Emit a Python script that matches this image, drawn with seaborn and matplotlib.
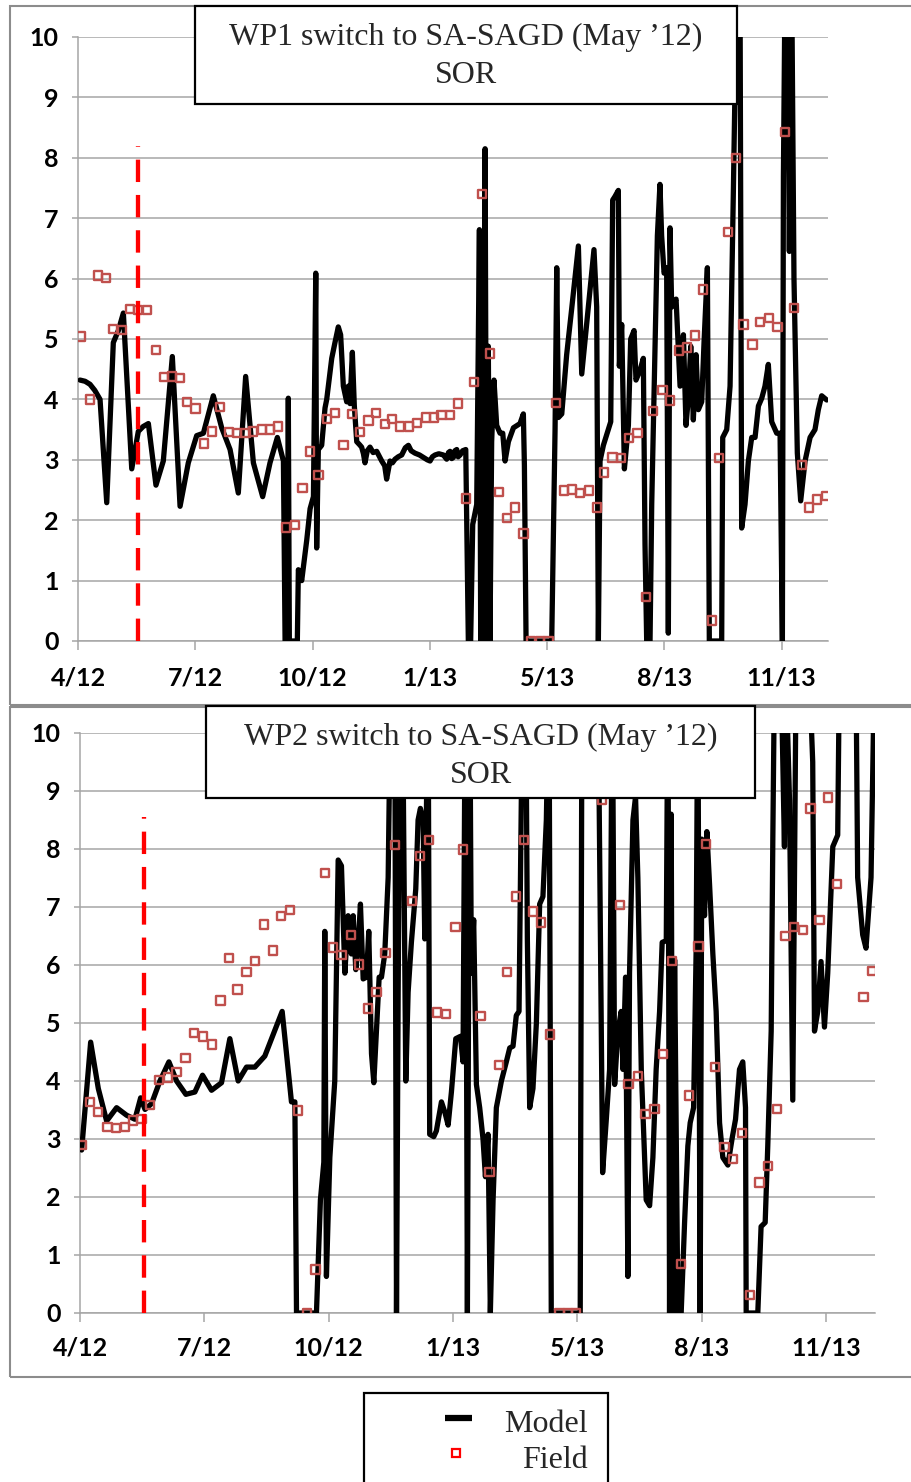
import numpy as np
import pandas as pd
import matplotlib
matplotlib.use("Agg")
import matplotlib.pyplot as plt
import seaborn as sns
from matplotlib.patches import Rectangle
from matplotlib.lines import Line2D

# ---------------- data (x = days since 1 Apr 2012, y = SOR) ----------------
TICK_DAYS = [0, 91, 182, 273, 364, 455, 546]
TICK_LABELS = ['4/12', '7/12', '10/12', '1/13', '5/13', '8/13', '11/13']
SWITCH_DAY = 46.8
X_MAX = 582

WP1_MODEL_DAY = [1.6, 5.5, 9.3, 13, 17.1, 22.3, 27.4, 31.3, 35.2, 41.7, 46.8, 50.5, 54.6, 60.5, 66.2, 73.2,
                 79.2, 85.6, 92.1, 97.3, 105.0, 111.5, 118.0, 124.4, 130.1, 136.1, 143.3, 149.0, 154.7, 159.4,
                 160.7, 162.5, 163.2, 164.0, 170.2, 171.0, 173.6, 177.5, 180.1, 182.7, 184.5, 185.2, 186.5,
                 189.1, 191.7, 193.0, 196.9, 199.4, 202.0, 203.8, 205.9, 208.5, 209.8, 211.1, 212.9, 214.4,
                 216.3, 218.5, 220.1, 221.5, 222.7, 224.5, 226.6, 229, 231.8, 234, 235.7, 238, 239.5, 242.1,
                 244, 246.0, 248.5, 251.2, 254, 256.4, 258.5, 261.5, 265, 268.0, 271, 273.2, 275, 277.1, 280,
                 283.5, 286.1, 287.5, 288.7, 290, 291.3, 292.5, 293.9, 295, 296.5, 298.5, 300.9, 302.9, 304.7,
                 306.3, 309.4, 311.5, 312.5, 313.8, 314.6, 315.9, 317.2, 318.4, 319.7, 321.0, 322.8, 324.9,
                 327.5, 329.6, 331.4, 334.0, 337.9, 343.0, 345.6, 346.4, 347.7, 367.6, 370.2, 371.5, 372.8,
                 375.4, 379.2, 383.1, 388.3, 390.9, 396.0, 400.4, 402.5, 403.8, 405.1, 407.7, 413.4, 414.9,
                 416.7, 419.3, 420.1, 421.9, 424.0, 427.1, 428.9, 431.5, 433.0, 436.1, 438.7, 440.0, 441.3,
                 443.9, 445.2, 447.8, 449.6, 451.6, 452.9, 454.8, 456.8, 458.1, 459.4, 460.7, 464.1, 467.2,
                 469.8, 471.8, 473.6, 475.5, 477.5, 479.6, 481.4, 484.0, 485.8, 488.4, 489.9, 499.5, 500.3,
                 503.4, 506.0, 508.6, 511.2, 513.7, 515.0, 517.6, 520.2, 522.8, 525.4, 528.0, 530.6, 533.1,
                 535.7, 538.3, 542.2, 544.8, 546.6, 547.4, 548.7, 550.5, 552.0, 553.8, 555.6, 558.2, 560.8,
                 564.2, 568.1, 571.9, 574.5, 577.1, 581.0]
WP1_MODEL_SOR = [4.32, 4.30, 4.25, 4.15, 4.0, 2.29, 4.94, 5.14, 5.43, 2.85, 3.47, 3.55, 3.6, 2.58, 2.98, 4.71,
                 2.23, 2.95, 3.4, 3.44, 4.06, 3.53, 3.17, 2.45, 4.38, 2.95, 2.39, 2.95, 3.37, 2.98,
                 0, 0, 4.02, 0, 0, 1.18, 1.0, 1.67, 2.19, 2.39, 6.09, 1.54, 3.17,
                 3.24, 3.86, 4.0, 4.68, 4.94, 5.2, 5.07, 4.22, 3.96, 4.22, 3.93, 4.78, 3.9,
                 3.3, 3.25, 3.21, 3.1, 2.95, 3.15, 3.21, 3.12, 3.14, 3.05, 2.98, 2.9, 2.68, 2.98,
                 2.95, 3.01, 3.05, 3.08, 3.2, 3.24, 3.15, 3.11, 3.08, 3.04, 3.0, 2.98, 3.05, 3.08, 3.1,
                 3.08, 3.01, 3.12, 3.14, 3.02, 3.04, 3.15, 3.17, 3.05, 3.08, 3.15, 3.17, 0, 0,
                 1.93, 2.26, 6.81, 0, 5.53, 0, 8.15, 0, 4.88, 0, 3.3, 4.32, 3.57,
                 3.44, 3.44, 2.98, 3.3, 3.53, 3.6, 3.76, 2.91, 0, 0, 3.5, 6.18, 3.7,
                 3.76, 4.74, 5.5, 6.54, 4.42, 5.53, 6.48, 5.53, 0, 2.98, 3.24, 3.63, 7.3,
                 7.36, 7.46, 4.55, 5.24, 2.85, 3.57, 5.0, 5.14, 4.32, 4.48, 4.68, 1.6, 0,
                 0, 2.26, 4.88, 6.71, 7.56, 6.71, 6.09, 6.18, 0.13, 6.84, 5.53, 5.66, 4.22,
                 5.07, 3.57, 4.02, 4.88, 3.66, 4.74, 3.83, 3.96, 4.94, 6.18, 0, 0, 3.37,
                 3.5, 4.22, 7.49, 11, 11, 1.87, 2.26, 2.98, 3.37, 3.37, 3.89, 4.02, 4.22,
                 4.58, 3.63, 3.44, 3.44, 0, 7.69, 11, 11, 6.45, 11, 6.0, 3.11, 2.32,
                 2.98, 3.37, 3.5, 3.83, 4.06, 3.99]

WP1_FIELD_DAY = [2.3, 9.3, 15.3, 21.5, 27.4, 34.4, 40.4, 46.8, 53.3, 60.3, 66.7, 72.7, 79.2, 84.8, 91.3,
                 97.8, 104.2, 110.4, 117.2, 123.6, 130.1, 136.0, 142.6, 149.0, 155.0, 161.4, 168.4, 174.1,
                 180.0, 186.5, 193.0, 199.4, 205.9, 212.4, 218.8, 225.3, 231.2, 238.2, 243.9, 249.9, 256.9,
                 263.3, 269.8, 276.3, 282.2, 288.7, 295.1, 300.9, 307.3, 313.7, 319.7, 326.7, 332.7, 339.1,
                 345.6, 351.3, 358.5, 365.0, 370.7, 377.1, 383.6, 389.6, 396.5, 403.0, 408.4, 414.9, 421.4,
                 427.6, 434.3, 440.8, 446.4, 453.7, 459.4, 466.6, 472.4, 478.8, 485.2, 491.8, 497.4, 504.6,
                 510.4, 516.3, 523.3, 529.2, 536.2, 542.7, 548.6, 555.6, 561.6, 567.3, 573.7, 580.2]
WP1_FIELD_SOR = [5.04, 4.0, 6.05, 6.01, 5.17, 5.15, 5.5, 5.48, 5.48, 4.82, 4.37, 4.38, 4.35, 3.96, 3.85,
                 3.27, 3.47, 3.87, 3.46, 3.44, 3.44, 3.47, 3.5, 3.5, 3.55, 1.88, 1.92, 2.53,
                 3.14, 2.75, 3.68, 3.78, 3.24, 3.76, 3.46, 3.65, 3.78, 3.59, 3.68, 3.55, 3.55,
                 3.61, 3.70, 3.70, 3.74, 3.74, 3.93, 2.36, 4.29, 7.4, 4.76, 2.47, 2.04, 2.21,
                 1.78, 0.0, 0.0, 0.0, 3.94, 2.49, 2.51, 2.45, 2.49, 2.21, 2.79, 3.04, 3.03,
                 3.36, 3.44, 0.73, 3.81, 4.16, 3.98, 4.81, 4.86, 5.06, 5.82, 0.34, 3.03, 6.77,
                 8.0, 5.24, 4.91, 5.28, 5.35, 5.2, 8.43, 5.51, 2.91, 2.21, 2.34, 2.4]

WP2_MODEL_DAY = [1.2, 7.8, 13.4, 19.5, 26.8, 34.1, 40.2, 44.4, 47.6, 52.4, 58.5, 65.1, 70.7, 77.5, 84.1,
                 89.7, 96.3, 103.6, 109.7, 115.8, 121.9, 128.0, 135.3, 141.4, 148.0, 154.8, 157.3, 158.5,
                 173.1, 176.0, 178.5, 179.2, 180.4, 182.9, 186.5, 189.0, 191.4, 193.9, 196.3, 198.7, 200.0,
                 201.9, 203.6, 205.3, 207.3, 209.7, 211.4, 213.4, 215.1, 217.0, 219.0, 220.7, 223.1, 225.6,
                 227.5, 230.4, 231.7, 232.9, 234.6, 236.0, 238.5, 240.2, 242.6, 245.8, 247.5, 249.2, 251.2,
                 252.4, 253.6, 254.8, 256.0, 259.0, 260.9, 264.6, 267.0, 269.5, 271.9, 275.1, 278.5, 280.4,
                 282.1, 283.6, 285.3, 286.5, 288.2, 290.2, 292.6, 295.0, 296.8, 298.7, 300.4, 302.4, 304.8,
                 308.5, 312.1, 314.6, 317.0, 319.4, 321.4, 323.1, 324.3, 326.3, 327.5, 329.2, 331.6, 334.1,
                 336.5, 338.9, 341.4, 343.3, 345.0, 366.2, 367.5, 379.2, 382.6, 385.3, 387.7, 389.7, 391.4,
                 393.8, 396.2, 397.5, 399.4, 401.1, 402.3, 404.8, 406.7, 408.4, 410.9, 414.5, 417.0, 419.4,
                 421.8, 424.3, 426.2, 429.2, 430.4, 431.6, 432.8, 434.0, 435.3, 437.7, 440.1, 442.6, 445.0,
                 446.7, 449.2, 451.1, 452.3, 454.0, 455.2, 457.2, 458.9, 460.9, 463.3, 465.7, 468.2, 470.6,
                 474.3, 477.4, 479.9, 482.8, 485.2, 487.2, 487.7, 496.2, 498.6, 501.6, 503.5, 506.0, 507.2,
                 508.4, 513.3, 515.7, 516.9, 519.4, 521.8, 524.2, 534.0, 536.4, 537.7, 540.1, 542.5, 545.0,
                 547.4, 551.1, 554.7, 555.9, 568.1, 569.3, 573.0, 575.4, 579.1, 581.5]
WP2_MODEL_SOR = [2.81, 4.67, 3.87, 3.31, 3.54, 3.41, 3.34, 3.71, 3.51, 3.61, 4.0, 4.33, 4.0, 3.77, 3.81,
                 4.1, 3.84, 3.97, 4.73, 4.0, 4.24, 4.24, 4.43, 4.8, 5.2, 3.64, 3.64, 0,
                 0, 1.95, 2.6, 6.58, 0.63, 2.68, 4.0, 7.81, 7.71, 5.86, 6.85, 6.19, 6.85,
                 5.92, 6.32, 7.05, 5.76, 5.79, 6.58, 4.47, 3.97, 4.86, 5.79, 5.79, 6.19, 7.51,
                 11, 11, 0, 5.5, 11, 11, 4.0, 5.53, 6.39, 7.31, 8.5, 8.7, 8.5,
                 6.45, 8.64, 11, 3.08, 3.04, 3.14, 3.64, 3.47, 3.24, 3.81, 4.73, 4.77, 4.33,
                 11, 0, 11, 5.86, 6.78, 3.94, 3.54, 3.01, 2.35, 3.08, 0, 1.95, 3.54,
                 4.0, 4.33, 4.57, 4.6, 5.13, 5.2, 8.9, 11, 11, 6.45, 3.54, 3.87, 5.0,
                 7.05, 7.18, 8.5, 11, 0, 0, 11, 11, 2.42, 3.34, 4.2, 11, 3.94,
                 4.86, 5.2, 4.2, 5.79, 0.63, 5.86, 8.5, 8.9, 7.5, 4.2, 1.95, 1.85, 2.68,
                 4.2, 5.2, 6.39, 6.42, 11, 0, 8.6, 0, 6.09, 0, 0, 1.56, 2.88,
                 3.28, 3.54, 6.32, 11, 0, 8.17, 6.85, 8.3, 7.38, 6.19, 5.2, 3.28, 2.68,
                 2.55, 3.01, 3.34, 4.2, 4.33, 3.54, 0, 0, 1.49, 1.56, 2.88, 4.86, 8.17,
                 11, 11, 8.04, 11, 8.84, 3.67, 11, 11, 9.5, 4.86, 5.2, 6.06, 4.93,
                 5.86, 8.04, 8.24, 11, 11, 7.51, 6.52, 6.29, 7.51, 11]

WP2_FIELD_DAY = [1.2, 7.3, 13.4, 20.2, 26.3, 32.9, 39.0, 45.1, 51.2, 57.8, 64.6, 70.7, 77.3, 83.4, 90.2,
                 96.8, 102.9, 109.0, 115.3, 121.9, 128.0, 134.6, 141.2, 147.0, 153.6, 159.7, 166.3, 172.4,
                 179.2, 185.3, 191.4, 198.3, 204.4, 210.9, 217.0, 223.6, 230.4, 243.1, 248.7, 255.3, 261.4,
                 267.7, 274.8, 280.4, 293.3, 299.9, 306.7, 312.8, 319.4, 325.0, 331.6, 337.7, 344.3, 351.1,
                 357.2, 363.3, 382.3, 395.5, 401.6, 408.4, 414.0, 420.6, 426.7, 433.5, 440.1, 445.7, 452.8,
                 458.4, 465.0, 471.8, 477.9, 484.5, 490.6, 497.4, 503.5, 510.1, 516.4, 522.5, 529.1, 534.7,
                 541.3, 547.4, 554.2, 573.7, 579.8]
WP2_FIELD_SOR = [2.9, 3.64, 3.47, 3.21, 3.19, 3.21, 3.32, 3.34, 3.59, 4.02, 4.06, 4.16, 4.4, 4.83, 4.77,
                 4.63, 5.39, 6.12, 5.58, 5.88, 6.07, 6.7, 6.25, 6.85, 6.95, 3.49, 0.0, 0.75,
                 7.59, 6.3, 6.17, 6.52, 6.01, 5.25, 5.54, 6.21, 8.07, 7.1, 7.88, 8.15, 5.18,
                 5.16, 6.66, 7.99, 5.12, 2.43, 4.28, 5.88, 7.18, 8.15, 6.92, 6.73, 4.8, 0.0,
                 0.0, 0.0, 8.84, 7.04, 3.95, 4.09, 3.43, 3.52, 4.47, 6.07, 0.85, 3.75, 6.32,
                 8.09, 4.24, 2.86, 2.66, 3.1, 0.31, 2.25, 2.53, 3.52, 6.5, 6.66, 6.6, 8.7,
                 6.78, 8.89, 7.4, 5.45, 5.9]

PANELS = [
    dict(title="WP1 switch to SA-SAGD (May \u201912)", model=(WP1_MODEL_DAY, WP1_MODEL_SOR),
         field=(WP1_FIELD_DAY, WP1_FIELD_SOR), switch_top=8.2),
    dict(title="WP2 switch to SA-SAGD (May \u201912)", model=(WP2_MODEL_DAY, WP2_MODEL_SOR),
         field=(WP2_FIELD_DAY, WP2_FIELD_SOR), switch_top=8.55),
]

# ---------------- figure ----------------
sns.set_theme(style="white")
plt.rcParams['font.family'] = ['Lato', 'DejaVu Sans']

W, H = 911, 1482
fig = plt.figure(figsize=(W / 100, H / 100), dpi=100)
fig.patch.set_facecolor('white')


def frect(l, t, r, b):
    return [l / W, 1 - b / H, (r - l) / W, (b - t) / H]


GRID = '#a6a6a6'
FIELD_RED = '#c0504d'
SERIF = ['Liberation Serif', 'DejaVu Serif']

# panel borders (chart areas)
for (t, b) in [(6, 705), (707, 1377)]:
    l0, b0, w0, h0 = frect(10, t, W + 5, b)
    fig.add_artist(Rectangle((l0, b0), w0, h0, transform=fig.transFigure, fill=False,
                             ec='#8c8c8c', lw=1.5, zorder=0.5))

axes_rects = [frect(78, 37, 828, 641), frect(80, 733, 875, 1313)]
title_boxes = [(195, 6, 737, 104, 45, 83), (206, 706, 755, 798, 745, 783)]
tick_pads = [11.5, 10.5]

for panel, rect, tb, pad in zip(PANELS, axes_rects, title_boxes, tick_pads):
    ax = fig.add_axes(rect)
    mdf = pd.DataFrame({'day': panel['model'][0], 'sor': panel['model'][1]})
    fdf = pd.DataFrame({'day': panel['field'][0], 'sor': panel['field'][1]})
    sns.lineplot(data=mdf, x='day', y='sor', sort=False, estimator=None, color='black',
                 lw=3.8, ax=ax, zorder=3, solid_joinstyle='round', solid_capstyle='round')
    sns.scatterplot(data=fdf, x='day', y='sor', marker='s', s=36, color=FIELD_RED,
                    facecolor='none', edgecolor=FIELD_RED, linewidth=1.7, ax=ax, zorder=4)
    ax.vlines(SWITCH_DAY, 0, panel['switch_top'], colors='#ff0000', lw=3.1,
              linestyles=(0, (5.2, 3.0)), zorder=5)

    ax.set_xlim(0, X_MAX)
    ax.set_ylim(0, 10)
    ax.set_yticks(range(0, 11))
    ax.set_xticks(TICK_DAYS)
    ax.set_xticklabels(TICK_LABELS)
    ax.set_xlabel('')
    ax.set_ylabel('')
    ax.grid(axis='y', color=GRID, lw=1.1)
    ax.grid(axis='x', visible=False)
    ax.set_axisbelow(True)
    for s in ['top', 'right']:
        ax.spines[s].set_visible(False)
    for s in ['left', 'bottom']:
        ax.spines[s].set_color(GRID)
        ax.spines[s].set_linewidth(1.1)
    ax.tick_params(axis='x', bottom=True, length=6.5, width=1.1, color=GRID, pad=pad,
                   labelsize=18, labelcolor='black')
    ax.tick_params(axis='y', left=True, length=4.3, width=1.1, color=GRID, pad=9.5,
                   labelsize=18, labelcolor='black')
    for lbl in ax.get_xticklabels() + ax.get_yticklabels():
        lbl.set_fontweight('bold')
    ax.set_facecolor('white')

    # title box
    l, t, r, b, y1, y2 = tb
    l0, b0, w0, h0 = frect(l, t, r, b)
    fig.add_artist(Rectangle((l0, b0), w0, h0, transform=fig.transFigure, fc='white',
                             ec='black', lw=1.6, zorder=10))
    cx = (l + r) / 2 / W
    fig.text(cx, 1 - y1 / H, panel['title'], ha='center', va='baseline', family=SERIF,
             size=23, zorder=11)
    fig.text(cx, 1 - y2 / H, 'SOR', ha='center', va='baseline', family=SERIF,
             size=23, zorder=11)

# legend (manual frame, right-aligned labels as in the original)
l0, b0, w0, h0 = frect(364, 1393, 608, 1520)
fig.add_artist(Rectangle((l0, b0), w0, h0, transform=fig.transFigure, fill=False,
                         ec='black', lw=1.6, zorder=10))
fig.add_artist(Line2D([445 / W, 472 / W], [1 - 1418 / H] * 2, transform=fig.transFigure,
                      color='black', lw=4.5, solid_capstyle='butt', zorder=11))
fig.add_artist(Line2D([455.5 / W], [1 - 1453 / H], transform=fig.transFigure, marker='s',
                      ms=6, mfc='none', mec='#ff0000', mew=1.6, lw=0, zorder=11))
fig.text(588 / W, 1 - 1432 / H, 'Model', ha='right', va='baseline', family=SERIF, size=23)
fig.text(588 / W, 1 - 1468 / H, 'Field', ha='right', va='baseline', family=SERIF, size=23)

fig.savefig('out.png', dpi=100)
